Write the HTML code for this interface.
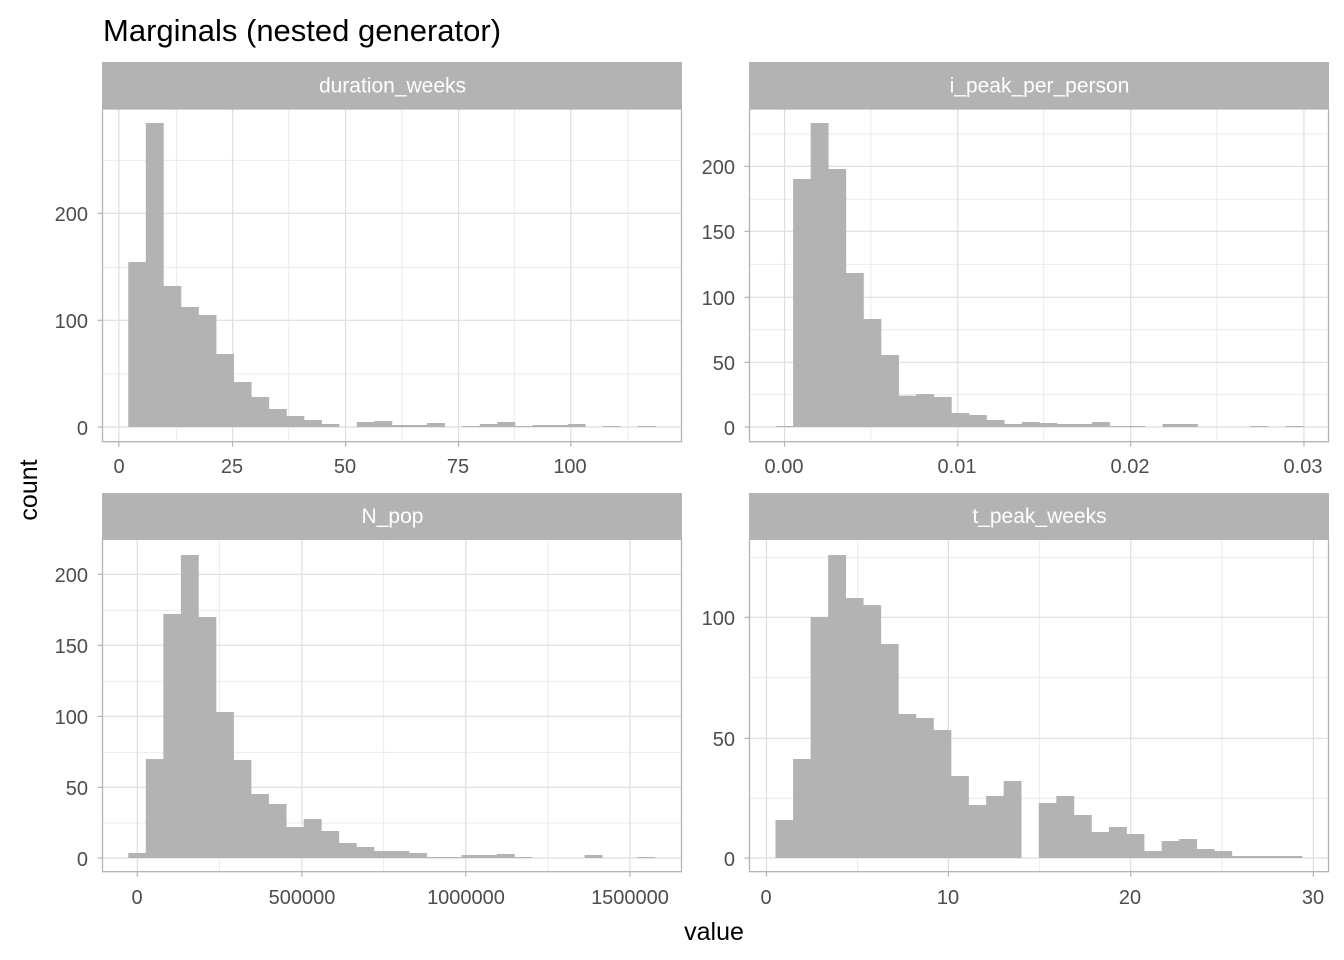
<!DOCTYPE html>
<html><head><meta charset="utf-8"><style>
html,body{margin:0;padding:0;background:#fff;}
svg{display:block;font-family:"Liberation Sans",Arial,sans-serif;}
</style></head><body>
<svg id="s" width="1344" height="960" viewBox="0 0 1344 960" xmlns="http://www.w3.org/2000/svg">
<rect width="1344" height="960" fill="#fff"/>
<text x="103" y="41" font-size="31" fill="#000">Marginals (nested generator)</text>
<text x="714" y="940" font-size="25" text-anchor="middle" fill="#000">value</text>
<text transform="translate(37,490) rotate(-90)" font-size="25" text-anchor="middle" fill="#000">count</text>
<g id="panels"></g>
<g font-size="20" fill="#4d4d4d">
<g text-anchor="end">
<text x="88" y="435">0</text><text x="88" y="328">100</text><text x="88" y="221">200</text>
<text x="735" y="435">0</text><text x="735" y="370">50</text><text x="735" y="305">100</text><text x="735" y="239">150</text><text x="735" y="174">200</text>
<text x="88" y="866">0</text><text x="88" y="795">50</text><text x="88" y="724">100</text><text x="88" y="653">150</text><text x="88" y="582">200</text>
<text x="735" y="866">0</text><text x="735" y="746">50</text><text x="735" y="625">100</text>
</g>
<g text-anchor="middle">
<text x="119" y="473">0</text><text x="232" y="473">25</text><text x="345" y="473">50</text><text x="458" y="473">75</text><text x="570" y="473">100</text>
<text x="784" y="473">0.00</text><text x="957" y="473">0.01</text><text x="1130" y="473">0.02</text><text x="1303" y="473">0.03</text>
<text x="137" y="904">0</text><text x="302" y="904">500000</text><text x="466" y="904">1000000</text><text x="630" y="904">1500000</text>
<text x="766" y="904">0</text><text x="948" y="904">10</text><text x="1130" y="904">20</text><text x="1313" y="904">30</text>
</g>
</g>
</svg>
<script>
var NS="http://www.w3.org/2000/svg";
var P=[
 {ox:100,oy:100,sy:62,top:27,bot:1025,base:981,start:75,w:46.67,
  vmaj:[50,352,652,952,1250],vmin:[203,501,802,1101,1402],hmaj:[981,661,340],hmin:[822,502,181],
  tops:[486,69,558,621,645,762,846,891,927,948,960,972,981,966,963,975,975,969,981,978,972,966,978,975,975,972,981,978,981,978],label:"duration_weeks"},
 {ox:745,oy:100,sy:62,top:27,bot:1025,base:981,start:81,w:46.7,
  vmaj:[105,565,1024,1484],vmin:[334,793,1253],hmaj:[981,787,592,394,199],hmin:[884,689,493,298,102],
  tops:[978,237,69,207,519,657,765,887,882,891,939,945,960,972,966,969,972,972,966,978,978,981,972,972,981,981,981,978,981,978],label:"i_peak_per_person"},
 {ox:100,oy:535,sy:493,top:13,bot:1010,base:969,start:75,w:46.6,
  vmaj:[99,536,971,1407],vmin:[317,753,1189],hmaj:[969,757,544,331,118],hmin:[864,652,439,227],
  tops:[954,672,237,60,246,531,675,777,807,876,852,888,924,936,948,948,954,966,966,960,960,957,966,969,969,969,960,969,969,966],label:"N_pop"},
 {ox:745,oy:535,sy:493,top:13,bot:1010,base:969,start:81,w:46.6,
  vmaj:[57,540,1024,1509],vmin:[299,782,1266],hmaj:[969,610,247],hmin:[790,427,67],
  tops:[855,672,246,60,189,210,327,537,549,585,723,810,783,738,969,804,783,840,891,876,897,948,918,912,942,948,963,963,963,963],label:"t_peak_weeks"}
];
var root=document.getElementById("panels");
function el(t,a,p){var e=document.createElementNS(NS,t);for(var k in a)e.setAttribute(k,a[k]);(p||root).appendChild(e);return e;}
P.forEach(function(p){
 var sx=2.655,sy=3;
 function X(z){return p.ox+z/sx;} function Y(z){return p.oy+z/sy;}
 var L=p.ox<400?102.5:749.5,R=L+579,T=Y(p.top),B=Y(p.bot);
 el("rect",{x:L-0.5,y:p.sy,width:580,height:T-p.sy,fill:"#b3b3b3"});
 var t=el("text",{x:L+290,y:p.sy+(T-p.sy)/2+7,"font-size":"21",fill:"#fff","text-anchor":"middle"});t.textContent=p.label;
 p.hmin.forEach(function(v){el("line",{x1:L,x2:R,y1:Y(v),y2:Y(v),stroke:"#ebebeb","stroke-width":"1"});});
 p.vmin.forEach(function(v){el("line",{x1:X(v),x2:X(v),y1:T,y2:B,stroke:"#ebebeb","stroke-width":"1"});});
 p.hmaj.forEach(function(v){el("line",{x1:L,x2:R,y1:Y(v),y2:Y(v),stroke:"#dedede","stroke-width":"1.2"});});
 p.vmaj.forEach(function(v){el("line",{x1:X(v),x2:X(v),y1:T,y2:B,stroke:"#dedede","stroke-width":"1.2"});});
 p.tops.forEach(function(tp,i){ if(tp>=p.base) return;
  var x0=X(p.start+i*p.w),x1=X(p.start+(i+1)*p.w);
  el("rect",{x:x0,y:Y(tp),width:x1-x0+0.3,height:Y(p.base)-Y(tp),fill:"#b3b3b3"});});
 el("rect",{x:L,y:T,width:R-L,height:B-T,fill:"none",stroke:"#b3b3b3","stroke-width":"1.3"});
 p.vmaj.forEach(function(v){el("line",{x1:X(v),x2:X(v),y1:B,y2:B+5,stroke:"#b3b3b3","stroke-width":"1.2"});});
 p.hmaj.forEach(function(v){el("line",{x1:L-5,x2:L,y1:Y(v),y2:Y(v),stroke:"#b3b3b3","stroke-width":"1.2"});});
});
</script>
</body></html>
